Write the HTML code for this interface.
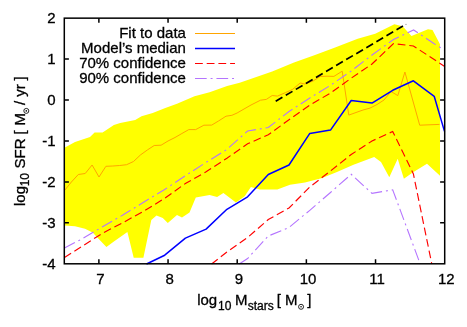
<!DOCTYPE html>
<html><head><meta charset="utf-8">
<style>
html,body{margin:0;padding:0;background:#fff;}
body{width:467px;height:327px;overflow:hidden;}
svg{display:block;will-change:transform;}
text{font-family:"Liberation Sans",sans-serif;font-size:15.0px;fill:#000;stroke:#000;stroke-width:0.3px;}
text.s{font-size:12.0px;}
</style></head><body>
<svg width="467" height="327" viewBox="0 0 467 327">
<rect width="467" height="327" fill="#fff"/>
<polygon points="64.5,147.7 75.0,142.1 90.0,137.1 94.6,132.6 102.6,132.6 113.9,125.1 120.2,123.1 135.2,120.1 141.5,116.3 152.7,113.1 165.3,108.1 177.0,103.8 194.5,96.3 209.6,92.3 227.1,86.0 239.7,82.7 272.2,71.4 294.0,62.5 315.0,55.1 335.1,47.6 357.7,38.8 375.2,33.8 394.4,24.3 402.6,26.2 411.5,36.0 428.0,29.2 432.5,30.0 440.0,44.2 440.0,175.8 427.0,163.7 412.7,172.6 403.9,178.8 397.7,158.8 389.3,177.3 381.0,162.0 374.2,156.9 353.5,164.7 336.4,172.2 321.4,178.2 305.0,182.6 290.0,184.8 277.3,189.6 259.7,189.6 250.9,187.1 244.7,196.3 235.9,202.6 223.4,193.1 217.1,197.1 209.6,195.1 195.8,197.6 189.5,212.6 182.0,217.6 177.0,215.0 167.8,223.0 162.8,218.0 156.5,215.6 151.3,220.0 143.4,257.8 133.7,257.8 127.4,232.0 113.9,241.4 106.4,246.9 92.6,232.6 85.0,228.8 75.0,226.3 64.5,225.6" fill="#ffff00"/>
<polyline points="64.5,190.5 71.4,182.0 78.3,174.5 85.2,173.5 92.1,165.0 99.0,177.0 105.9,166.3 112.8,166.0 119.7,165.5 126.6,164.7 133.5,161.5 140.4,155.0 147.3,150.0 154.2,145.5 161.1,145.2 168.0,141.0 175.0,137.5 181.9,133.5 188.8,129.6 195.7,129.6 203.9,125.2 211.7,125.1 218.5,121.0 226.0,116.2 231.9,115.3 237.1,113.0 244.0,109.0 251.0,105.0 260.5,100.2 266.3,99.4 272.2,95.5 277.5,96.1 285.5,92.6 292.4,89.5 300.2,83.0 304.8,84.0 313.1,81.0 320.0,76.5 327.0,76.2 333.9,76.4 342.2,71.2 348.8,115.1 356.0,112.5 363.0,110.0 370.0,108.1 377.0,104.5 384.0,100.0 391.0,91.5 397.8,95.6 404.9,72.0 419.7,125.2 439.5,124.4" fill="none" stroke="#ffa500" stroke-width="1"/>
<polyline points="146.5,264.0 164.7,255.2 185.4,238.1 206.1,229.1 226.9,209.3 247.6,196.8 268.3,174.5 289.0,165.0 309.8,133.4 330.5,130.1 351.2,100.5 372.0,103.1 392.7,90.3 413.4,80.8 434.2,96.3 444.5,131.4" fill="none" stroke="#0000ff" stroke-width="1.5" stroke-linejoin="round"/>
<polyline points="64.5,257.5 81.8,246.5 102.5,233.2 123.2,222.5 144.0,211.0 164.7,198.3 185.4,183.5 206.1,171.8 226.9,158.2 247.6,143.8 268.3,134.7 289.0,119.8 309.8,105.2 330.5,93.0 351.2,78.2 372.0,64.0 393.5,43.6 413.4,46.0 434.2,59.5 444.7,66.5" fill="none" stroke="#ff0000" stroke-width="1.15" stroke-dasharray="7.8,3.9"/>
<polyline points="211.6,264.0 226.9,252.0 247.6,237.5 268.3,219.5 289.0,208.0 309.8,187.0 330.5,171.0 351.2,154.5 372.0,141.0 392.7,131.5 413.4,174.0 431.8,264.0" fill="none" stroke="#ff0000" stroke-width="1.15" stroke-dasharray="7.8,3.9"/>
<polyline points="64.5,248.0 81.8,239.0 102.5,226.8 123.2,214.8 144.0,202.0 164.7,189.5 185.4,175.7 206.1,162.4 226.9,149.4 247.6,131.0 268.3,127.5 289.0,111.5 309.8,98.0 330.5,85.3 351.2,71.0 372.0,55.0 393.5,39.5 413.6,30.0 434.2,43.7 444.7,50.2" fill="none" stroke="#b474ff" stroke-width="1.1" stroke-dasharray="11.7,3.9,1.95,3.9"/>
<polyline points="239.2,264.0 247.6,258.5 268.3,236.0 289.0,227.5 309.8,210.3 330.5,192.5 351.2,174.3 372.0,193.4 392.7,189.8 420.2,264.0" fill="none" stroke="#b474ff" stroke-width="1.1" stroke-dasharray="11.7,3.9,1.95,3.9"/>
<polyline points="275.7,101.3 403.0,26.0" fill="none" stroke="#000" stroke-width="1.7" stroke-dasharray="7.8,3.9"/>
<circle cx="406" cy="24.4" r="0.6" fill="#999"/>
<g text-anchor="end">
<text x="185.9" y="38">Fit to data</text>
<text x="185.9" y="53">Model’s median</text>
<text x="185.9" y="68">70% confidence</text>
<text x="185.9" y="83">90% confidence</text>
</g>
<path d="M195,33.5H235" stroke="#ffa500" stroke-width="1" fill="none"/>
<path d="M195,48.5H235" stroke="#0000ff" stroke-width="1.5" fill="none"/>
<path d="M195,63.5H235" stroke="#ff0000" stroke-width="1" stroke-dasharray="7.8,3.9" fill="none"/>
<path d="M195,78.5H235" stroke="#b474ff" stroke-width="1" stroke-dasharray="11.7,3.9,1.95,3.9" fill="none"/>
<g stroke="#000" stroke-width="1.5" fill="none">
<rect x="64.3" y="18.15" width="380.40" height="245.65"/>
<path d="M98.88,263.8v-4.6M98.88,18.15v4.6"/><path d="M168.05,263.8v-4.6M168.05,18.15v4.6"/><path d="M237.21,263.8v-4.6M237.21,18.15v4.6"/><path d="M306.37,263.8v-4.6M306.37,18.15v4.6"/><path d="M375.54,263.8v-4.6M375.54,18.15v4.6"/><path d="M64.3,59.09h4.6M444.7,59.09h-4.6"/><path d="M64.3,100.03h4.6M444.7,100.03h-4.6"/><path d="M64.3,140.97h4.6M444.7,140.97h-4.6"/><path d="M64.3,181.92h4.6M444.7,181.92h-4.6"/><path d="M64.3,222.86h4.6M444.7,222.86h-4.6"/>
</g>
<text x="100.5" y="284" text-anchor="middle">7</text><text x="169.6" y="284" text-anchor="middle">8</text><text x="238.8" y="284" text-anchor="middle">9</text><text x="308.0" y="284" text-anchor="middle">10</text><text x="377.1" y="284" text-anchor="middle">11</text><text x="446.3" y="284" text-anchor="middle">12</text>
<text x="55.6" y="23.0" text-anchor="end">2</text><text x="55.6" y="63.9" text-anchor="end">1</text><text x="55.6" y="104.9" text-anchor="end">0</text><text x="55.6" y="145.8" text-anchor="end">-1</text><text x="55.6" y="186.8" text-anchor="end">-2</text><text x="55.6" y="227.7" text-anchor="end">-3</text><text x="55.6" y="268.7" text-anchor="end">-4</text>
<text x="197.2" y="305.0">log</text><text x="218.1" y="309.6" class="s">10</text><text x="235.0" y="305.0">M</text><text x="247.7" y="309.6" class="s">stars</text><text x="276.8" y="305.0">[</text><text x="285.1" y="305.0">M</text><circle cx="301.05" cy="306.8" r="2.5" fill="none" stroke="#000" stroke-width="0.85"/><circle cx="301.05" cy="306.8" r="0.8" fill="#000"/><text x="307.3" y="305.0">]</text>
<text transform="translate(24.5,206.0) rotate(-90)">log</text><text transform="translate(29.1,186.3) rotate(-90)" class="s">10</text><text transform="translate(24.5,168.5) rotate(-90)">SFR</text><text transform="translate(24.5,134.6) rotate(-90)">[</text><text transform="translate(24.5,125.4) rotate(-90)">M</text><circle cx="26.3" cy="110.9" r="2.5" fill="none" stroke="#000" stroke-width="0.85"/><circle cx="26.3" cy="110.9" r="0.8" fill="#000"/><text transform="translate(24.5,104.9) rotate(-90)">/</text><text transform="translate(24.5,96.8) rotate(-90)">yr</text><text transform="translate(24.5,80.4) rotate(-90)">]</text>
</svg>
</body></html>
